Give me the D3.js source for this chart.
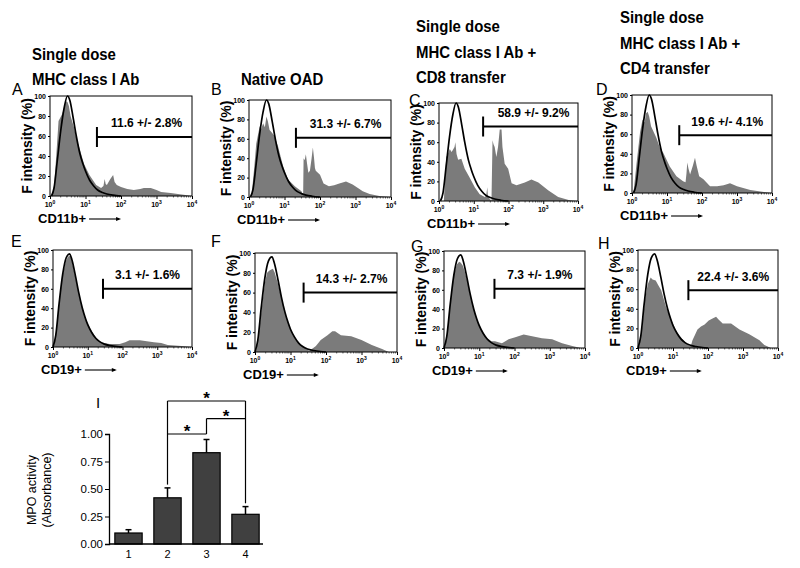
<!DOCTYPE html>
<html><head><meta charset="utf-8">
<script src="https://cdn.jsdelivr.net/npm/d3@7"></script>
<style>
body{margin:0;background:#fff}
svg{display:block}
text{font-family:"Liberation Sans",Arial,sans-serif;fill:#000}
</style>
</head><body>
<svg id="chart" width="800" height="568"></svg>
<script>
// ---------------- DATA ----------------
// Control (isotype) outlines: [fluorescence, % of max]
const ctrlCD11b = [[1.1,0],[1.3,8],[1.6,35],[2,65],[2.5,88],[3.1,100],[3.6,96],[4.5,78],[5.5,60],[7,42],[8.5,32],[10,25],[13,16],[17,10],[22,6],[30,3.5],[40,2],[60,0.8],[100,0]];
const ctrlCD19 = [[1,0],[1.2,12],[1.5,45],[1.9,75],[2.4,92],[3,96],[3.5,90],[4.5,72],[5.5,56],[7,40],[8.5,30],[10,23],[13,15],[17,9],[22,5.5],[30,3],[45,1.5],[70,0.5],[100,0]];

// Stained sample histograms (grey fill)
const fillA = [[1.1,0],[1.3,10],[1.5,40],[1.74,75],[2.2,82],[2.5,88],[2.7,95],[3.1,94],[3.4,90],[3.8,80],[4.7,69],[5.5,58],[6.6,49],[9.1,32],[12.9,21],[20,11],[27.5,8],[32,10],[34.7,17],[37,12],[40,11],[50,17],[60,21],[66,14],[76,11],[100,9],[150,7],[230,6],[350,7],[440,8],[690,8],[1000,6],[1350,4],[2500,3],[4000,2],[6500,1],[10000,0]];
const fillB = [[1.17,0],[1.4,30],[1.6,55],[2,73],[2.2,70],[2.5,76],[2.8,72],[3.1,83],[3.4,78],[3.8,69],[4.5,66],[5.2,63],[6.6,52],[9.1,32],[12.6,18],[19.5,11],[30,6],[33.5,2],[34.5,40],[37,38],[40,44],[43,35],[47,25],[52,27],[58,40],[63,51],[68,40],[72,30],[76,27],[100,23],[126,14],[178,11],[250,12],[350,14],[540,16],[830,13],[1200,9],[1600,6],[2500,3],[4700,1],[10000,0]];
const fillC = [[1.38,0],[1.5,25],[1.62,45],[1.8,48],[2.04,53],[2.3,50],[2.5,52],[2.8,55],[2.95,60],[3.2,48],[3.55,42],[4.4,43],[5.5,33],[7.6,24],[10.7,14],[14.8,7],[20.9,4],[23,6],[24.5,14],[25.5,5],[28.8,2],[32.4,0.5],[34.7,62],[37,58],[40,55],[44.7,45],[50,55],[56,73],[63,73],[67,55],[77.6,38],[97.7,33],[123,18],[170,16],[295,19],[457,22],[724,19],[1380,11],[2690,4],[5370,1],[10000,0]];
const fillD = [[1.1,0],[1.35,30],[1.7,62],[2,75],[2.3,72],[2.5,81],[2.8,83],[3.1,78],[3.5,68],[4.2,62],[5,56],[6.3,46],[7.8,41],[12,27],[18.6,17],[28.8,12],[33.9,11],[36,20],[38,31],[41,25],[45.7,19],[55,28],[63,36],[70,28],[83,17],[110,14],[170,7],[270,7],[417,8],[631,10],[1000,7],[2400,3],[5900,1],[10000,0]];
const fillE = [[1.05,0],[1.2,12],[1.5,45],[1.9,74],[2.3,88],[2.7,93],[3,94],[3.3,92],[3.6,86],[4.5,70],[5.5,55],[7,40],[8.5,30],[10,24],[13,16],[17,10],[21,6],[30,4],[42,3],[60,3],[83,3],[120,5],[160,7],[250,7],[316,7],[500,6],[800,5],[1300,4],[2000,2],[5000,1],[10000,0]];
const fillF = [[1.05,0],[1.2,10],[1.5,40],[1.9,70],[2.2,80],[2.5,82],[2.8,83],[3.2,84],[3.6,80],[4.5,68],[5.5,55],[7,40],[8.5,30],[10,23],[13,15],[17,9],[22,5.5],[29,2.5],[34,1],[40,3],[52,6],[71,12],[110,17],[151,21],[180,21],[263,17],[513,16],[1000,12],[1950,7],[3800,3],[5900,0]];
const fillG = [[1.05,0],[1.2,12],[1.5,45],[1.9,75],[2.3,86],[2.7,89],[3,88],[3.4,85],[3.8,80],[4.5,70],[5.5,55],[7,40],[8.5,30],[10,23],[13,15],[17,10],[22,7],[28,7],[35,6],[44,5],[55,7],[68,9],[105,11],[182,14],[316,12],[600,10],[1170,9],[2240,5],[4360,2],[7600,0]];
const fillH = [[1.05,0],[1.3,20],[1.6,50],[1.9,65],[2.3,72],[2.6,70],[3.2,69],[3.8,64],[4.6,59],[6.3,42],[8.7,29],[13.5,15],[20.9,7],[29.5,2],[33,3],[36,8],[42,13],[50,19],[63,22],[80,24],[105,28],[135,30],[170,32],[200,29],[263,25],[457,25],[794,19],[1510,14],[2950,8],[4070,3],[6310,0]];

const panelLetters = ["A","B","C","D","E","F","G","H"];
const markers = ["CD11b+","CD11b+","CD11b+","CD11b+","CD19+","CD19+","CD19+","CD19+"];
const gateLabels = ["11.6 +/- 2.8%","31.3 +/- 6.7%","58.9 +/- 9.2%","19.6 +/- 4.1%","3.1 +/- 1.6%","14.3 +/- 2.7%","7.3 +/- 1.9%","22.4 +/- 3.6%"];
const gateStarts = [21,21,18.6,22.4,27.5,23.4,27,27.5];
const gateLevels = [59,61,76,59,60,60,61,59];
const yTicks = [0,20,40,60,80,100];
const xDecades = [0,1,2,3,4];

const titles = [["Single dose","MHC class I Ab"],["Native OAD"],["Single dose","MHC class I Ab +","CD8 transfer"],["Single dose","MHC class I Ab +","CD4 transfer"]];

// Bar chart (panel I)
const groups = ["1","2","3","4"];
const mpoMean = [0.10,0.42,0.83,0.27];
const mpoErr = [0.03,0.09,0.12,0.07];
const barTicks = [0,0.25,0.5,0.75,1.0];

// ---------------- LAYOUT ----------------
const fills = [fillA,fillB,fillC,fillD,fillE,fillF,fillG,fillH];
const ctrls = [ctrlCD11b,ctrlCD11b,ctrlCD11b,ctrlCD11b,ctrlCD19,ctrlCD19,ctrlCD19,ctrlCD19];
const frames = [[50,96,142,100],[249,100,142,97],[439,103,139,98],[632,95,140,98],
                [53,250,139,97],[255,253,142,99],[444,251,141,97],[638,250,140,98]];
const letterPos = [[12,95],[211,95],[409,106],[596,95],[11,247],[211,247],[411,252],[598,249]];
const titlePos = [[32,85],[241,85],[416,83],[620,74]];

const svg = d3.select("#chart");
const grey = "#7b7b7b";

// titles (condensed bold look)
titles.forEach((lines,i)=>{
  const [tx,ty] = titlePos[i];
  lines.forEach((ln,j)=>{
    svg.append("text")
      .attr("transform",`translate(${tx},${ty-(lines.length-1-j)*25.5}) scale(0.88,1)`)
      .attr("font-size",17).attr("font-weight","bold").text(ln);
  });
});

frames.forEach((f,i)=>{
  const [L,T,W,H] = f;
  const x = d3.scaleLog().domain([1,10000]).range([L,L+W]);
  const y = d3.scaleLinear().domain([0,100]).range([T+H,T]);
  const g = svg.append("g");

  g.append("path").datum(fills[i])
    .attr("d", d3.area().x(d=>x(d[0])).y0(y(0)).y1(d=>y(d[1])))
    .attr("fill",grey);
  g.append("path").datum(ctrls[i])
    .attr("d", d3.line().x(d=>x(d[0])).y(d=>y(d[1])).curve(d3.curveMonotoneX))
    .attr("fill","none").attr("stroke","#000").attr("stroke-width",1.7);

  g.append("rect").attr("x",L).attr("y",T).attr("width",W).attr("height",H)
    .attr("fill","none").attr("stroke","#000").attr("stroke-width",1);

  const ya = g.append("g").attr("transform",`translate(${L},0)`)
    .call(d3.axisLeft(y).tickValues(yTicks).tickSize(2).tickPadding(2));
  ya.select(".domain").remove();
  ya.selectAll("text").attr("font-size",7).attr("font-weight","bold")
    .attr("font-family","Liberation Sans, Arial, sans-serif");

  const xa = g.append("g").attr("transform",`translate(0,${T+H})`)
    .call(d3.axisBottom(x).tickValues(xDecades.map(e=>Math.pow(10,e))).tickSize(3).tickFormat(""));
  xa.select(".domain").remove();
  const minor = [];
  for(let e=0;e<4;e++) for(let m=2;m<10;m++) minor.push(m*Math.pow(10,e));
  g.selectAll(null).data(minor).enter().append("line")
    .attr("x1",d=>x(d)).attr("x2",d=>x(d)).attr("y1",T+H).attr("y2",T+H+1.5)
    .attr("stroke","#000").attr("stroke-width",0.6);
  xDecades.forEach(e=>{
    const t = g.append("text").attr("x",x(Math.pow(10,e))).attr("y",T+H+11)
      .attr("text-anchor","middle").attr("font-size",7).attr("font-weight","bold");
    t.append("tspan").text("10");
    t.append("tspan").attr("dy",-3).attr("font-size",5).text(e);
  });

  g.append("text").attr("transform",`translate(${L-22},${T+H/2}) rotate(-90)`)
    .attr("text-anchor","middle").attr("dominant-baseline","middle")
    .attr("font-size",14).attr("font-weight","bold").text("F intensity (%)");

  const xl = g.append("text").attr("x",L-12).attr("y",T+H+27)
    .attr("font-size",13).attr("font-weight","bold").text(markers[i]);
  const bw = xl.node().getComputedTextLength();
  const ax0 = L-12+bw+3, ax1 = ax0+30, ay = T+H+23;
  g.append("line").attr("x1",ax0).attr("x2",ax1).attr("y1",ay).attr("y2",ay)
    .attr("stroke","#000").attr("stroke-width",1.1);
  g.append("path").attr("d",`M${ax1+2},${ay} L${ax1-3},${ay-2} L${ax1-3},${ay+2} Z`).attr("fill","#000");

  const gx = x(gateStarts[i]), gy = y(gateLevels[i]);
  g.append("line").attr("x1",gx).attr("x2",L+W).attr("y1",gy).attr("y2",gy)
    .attr("stroke","#000").attr("stroke-width",2);
  g.append("line").attr("x1",gx).attr("x2",gx).attr("y1",gy-10).attr("y2",gy+10)
    .attr("stroke","#000").attr("stroke-width",2);
  g.append("text").attr("x",x(525)).attr("y",y(gateLevels[i]+14)).attr("dy","0.35em")
    .attr("text-anchor","middle").attr("font-size",12).attr("font-weight","bold")
    .text(gateLabels[i]);

  svg.append("text").attr("x",letterPos[i][0]).attr("y",letterPos[i][1])
    .attr("font-size",16).text(panelLetters[i]);
});

// ---------------- Bar chart I ----------------
const bx = d3.scaleBand().domain(groups).range([109,265]).paddingInner(0.3).paddingOuter(0.15);
const by = d3.scaleLinear().domain([0,1]).range([544,434]);
const bg = svg.append("g");
bg.selectAll("rect.bar").data(groups).enter().append("rect")
  .attr("x",d=>bx(d)).attr("width",bx.bandwidth())
  .attr("y",(d,i)=>by(mpoMean[i])).attr("height",(d,i)=>by(0)-by(mpoMean[i]))
  .attr("fill","#404040").attr("stroke","#000").attr("stroke-width",1.2);
groups.forEach((d,i)=>{
  const cx = bx(d)+bx.bandwidth()/2;
  bg.append("line").attr("x1",cx).attr("x2",cx).attr("y1",by(mpoMean[i])).attr("y2",by(mpoMean[i]+mpoErr[i]))
    .attr("stroke","#000").attr("stroke-width",1.5);
  bg.append("line").attr("x1",cx-3).attr("x2",cx+3).attr("y1",by(mpoMean[i]+mpoErr[i])).attr("y2",by(mpoMean[i]+mpoErr[i]))
    .attr("stroke","#000").attr("stroke-width",1.5);
});
const yAx = bg.append("g").attr("transform","translate(109,0)")
  .call(d3.axisLeft(by).tickValues(barTicks).tickFormat(d3.format(".2f")).tickSize(4).tickPadding(2));
yAx.select(".domain").attr("stroke-width",1.3);
yAx.selectAll("text").attr("font-size",11.5).attr("font-family","Liberation Sans, Arial, sans-serif");
bg.append("line").attr("x1",109).attr("x2",263).attr("y1",544).attr("y2",544).attr("stroke","#000").attr("stroke-width",1.3);
groups.forEach(d=>{
  bg.append("text").attr("x",bx(d)+bx.bandwidth()/2).attr("y",558).attr("text-anchor","middle")
    .attr("font-size",11).text(d);
});
const yl = bg.append("text").attr("transform","translate(40,490) rotate(-90)").attr("text-anchor","middle").attr("font-size",12.5);
yl.append("tspan").attr("x",0).attr("dy","-0.35em").text("MPO activity");
yl.append("tspan").attr("x",0).attr("dy","1.2em").text("(Absorbance)");
svg.append("text").attr("x",96).attr("y",408).attr("font-size",15).text("I");

const cxOf = k=>bx(k)+bx.bandwidth()/2;
const comps = [["2","4",1.30],["3","4",1.14],["2","3",1.00]];
comps.forEach(c=>{
  bg.append("line").attr("x1",cxOf(c[0])).attr("x2",cxOf(c[1])).attr("y1",by(c[2])).attr("y2",by(c[2]))
    .attr("stroke","#000").attr("stroke-width",1.2);
  bg.append("text").attr("x",(cxOf(c[0])+cxOf(c[1]))/2).attr("y",by(c[2])+3)
    .attr("text-anchor","middle").attr("font-size",17).attr("font-weight","bold").text("*");
});
const conns = [["2",1.30,0.51+0.03],["4",1.30,0.34+0.03],["3",1.14,1.00]];
conns.forEach(c=>{
  bg.append("line").attr("x1",cxOf(c[0])).attr("x2",cxOf(c[0])).attr("y1",by(c[1])).attr("y2",by(c[2]))
    .attr("stroke","#000").attr("stroke-width",1.2);
});
</script>
</body></html>
